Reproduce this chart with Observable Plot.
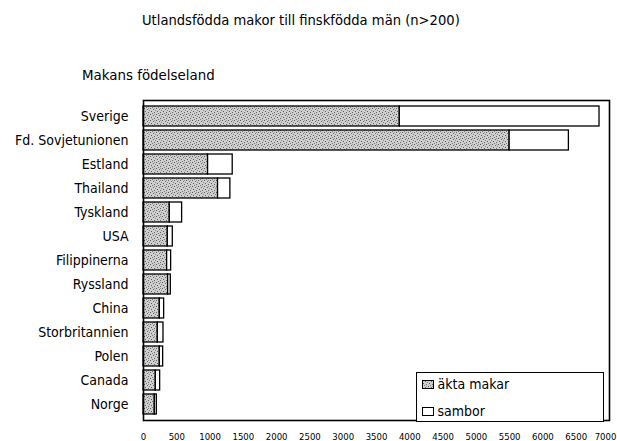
<!DOCTYPE html>
<html><head><meta charset="utf-8">
<script src="https://cdn.jsdelivr.net/npm/d3@7"></script>
<script src="https://cdn.jsdelivr.net/npm/@observablehq/plot@0.6"></script>
<style>
body{margin:0;background:#fff;font-family:"DejaVu Sans Condensed","Liberation Sans Narrow",sans-serif;color:#000;}
#wrap{position:relative;width:617px;height:441px;overflow:hidden;}
#title{position:absolute;left:142px;top:11px;font-size:14.6px;line-height:18px;white-space:nowrap;}
#subtitle{position:absolute;left:82px;top:66px;font-size:14.9px;line-height:18px;white-space:nowrap;}
#legend{position:absolute;left:416px;top:372px;width:188px;height:50px;border:1.5px solid #000;box-sizing:border-box;background:#fff;font-size:14px;line-height:16px;}
#legend .sw{position:absolute;left:5px;display:block;}
#legend .lab{position:absolute;left:20.5px;white-space:nowrap;}
</style></head><body><div id="wrap">
<div id="title"></div><div id="subtitle"></div>
</div>
<script>
const countries = ["Sverige","Fd. Sovjetunionen","Estland","Thailand","Tyskland","USA","Filippinerna","Ryssland","China","Storbritannien","Polen","Canada","Norge"];
const akta   = [3850, 5500, 970, 1120, 395, 365, 355, 370, 245, 215, 245, 185, 170];
const sambor = [3000,  890, 370,  185, 185,  75,  60,  40,  65,  85,  50,  65,  30];
const seriesNames = ["äkta makar", "sambor"];
const xTicks = [0,500,1000,1500,2000,2500,3000,3500,4000,4500,5000,5500,6000,6500,7000];
const titleText = "Utlandsfödda makor till finskfödda män (n>200)";
const subtitleText = "Makans födelseland";

const data = [];
countries.forEach((c, i) => {
  data.push({country: c, type: seriesNames[0], value: akta[i]});
  data.push({country: c, type: seriesNames[1], value: sambor[i]});
});

const font = '"DejaVu Sans Condensed","Liberation Sans Narrow",sans-serif';
const chart = Plot.plot({
  width: 617,
  height: 441,
  marginLeft: 143,
  marginRight: 8,
  marginTop: 102,
  marginBottom: 22,
  style: {fontFamily: font, background: "white", color: "black"},
  x: {domain: [0, 7000], ticks: xTicks, tickSize: 0, tickPadding: 14, label: null, tickFormat: d => String(d)},
  y: {domain: countries, paddingInner: 0.15, paddingOuter: 0, tickSize: 0, tickPadding: 15, label: null},
  color: {domain: seriesNames, range: ["url(#stipple)", "white"]},
  marks: [
    Plot.barX(data, Plot.stackX({x: "value", y: "country", fill: "type", stroke: "black", strokeWidth: 1.3})),
    Plot.frame({stroke: "black", strokeWidth: 1.6, insetTop: -2, insetBottom: -1})
  ]
});

const ns = "http://www.w3.org/2000/svg";
const defs = document.createElementNS(ns, "defs");
defs.innerHTML = `<pattern id="stipple" width="6" height="6" patternUnits="userSpaceOnUse">
<rect width="6" height="6" fill="#cfcfcf"/>
<rect x="0" y="0" width="1" height="1" fill="#5a5a5a"/>
<rect x="3" y="1" width="1" height="1" fill="#6a6a6a"/>
<rect x="1" y="3" width="1" height="1" fill="#5a5a5a"/>
<rect x="4" y="4" width="1" height="1" fill="#666"/>
<rect x="2" y="5" width="1" height="1" fill="#7a7a7a"/>
<rect x="5" y="2" width="1" height="1" fill="#888"/>
<rect x="4" y="0" width="1" height="1" fill="#999"/>
</pattern>`;
chart.insertBefore(defs, chart.firstChild);
chart.querySelectorAll('[aria-label="y-axis tick label"] text').forEach(t => t.style.fontSize = "14px");
const xLabels = chart.querySelectorAll('[aria-label="x-axis tick label"] text');
xLabels.forEach(t => t.style.fontSize = "9.5px");
if (xLabels.length) xLabels[xLabels.length - 1].setAttribute("dx", "-4");
chart.style.position = "absolute";
chart.style.left = "0"; chart.style.top = "0";

const wrap = document.getElementById("wrap");
wrap.insertBefore(chart, wrap.firstChild);
document.getElementById("title").textContent = titleText;
document.getElementById("subtitle").textContent = subtitleText;

const legend = document.createElement("div");
legend.id = "legend";
const swTops = [7, 34];
const labTops = [2.5, 29.5];
seriesNames.forEach((name, i) => {
  const sw = document.createElementNS(ns, "svg");
  sw.setAttribute("class", "sw");
  sw.setAttribute("width", "12");
  sw.setAttribute("height", "9");
  sw.style.top = swTops[i] + "px";
  sw.innerHTML = `<rect x="0.5" y="0.5" width="11" height="8" fill="${i === 0 ? "url(#stipple)" : "white"}" stroke="black"/>`;
  legend.appendChild(sw);
  const lab = document.createElement("span");
  lab.className = "lab";
  lab.style.top = labTops[i] + "px";
  lab.textContent = name;
  legend.appendChild(lab);
});
wrap.appendChild(legend);
</script></body></html>
